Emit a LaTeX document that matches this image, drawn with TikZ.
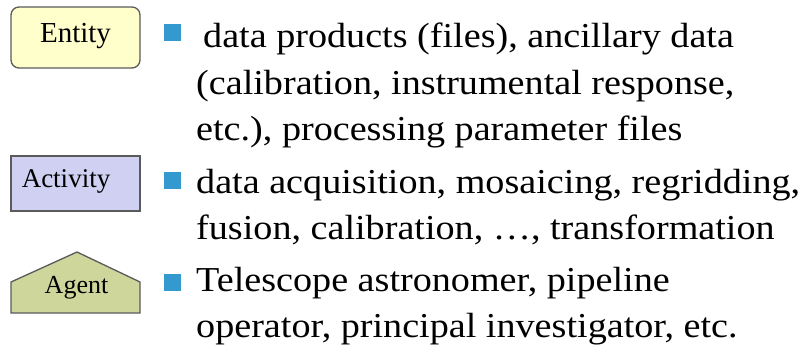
\documentclass[tikz,border=0pt]{standalone}
\usepackage{fontspec}
\setmainfont{Liberation Serif}
\newfontfamily\widefont[FakeStretch=1.09]{Liberation Serif}
\definecolor{entfill}{RGB}{255,255,204}
\definecolor{actfill}{RGB}{208,208,242}
\definecolor{agfill}{RGB}{206,214,156}
\definecolor{bulletblue}{RGB}{51,153,206}
\definecolor{edge}{RGB}{90,90,90}
\begin{document}
\begin{tikzpicture}[x=1pt,y=-1pt,
  shapebox/.style={draw=edge,line width=1.3pt},
  lbl/.style={inner sep=0pt,anchor=base},
  txt/.style={font=\widefont\fontsize{35}{40}\selectfont,inner sep=0pt,anchor=base west},
  bul/.style={fill=bulletblue,minimum size=17pt,inner sep=0pt}]
\useasboundingbox (0,0) rectangle (802,347);
% Entity
\draw[shapebox,fill=entfill,rounded corners=8pt] (11,7) rectangle (140,68);
\node[lbl,font=\fontsize{29}{30}\selectfont] (ent) at (75.5,43) {Entity};
% Activity
\draw[shapebox,fill=actfill] (11,156) rectangle (140,211);
\node[lbl,font=\fontsize{27}{30}\selectfont] (act) at (66,188) {Activity};
% Agent
\draw[shapebox,fill=agfill] (11,313) -- (11,282) -- (77,252) -- (140,282) -- (140,313) -- cycle;
\node[lbl,font=\fontsize{26}{30}\selectfont] (ag) at (76.5,293) {Agent};
% bullets
\node[bul] (b1) at (172,32.5) {};
\node[bul] (b2) at (172,181) {};
\node[bul] (b3) at (172,282) {};
% text
\node[txt] (t11) at (203,48) {data products (files), ancillary data};
\node[txt] (t12) at (196,95) {(calibration, instrumental response,};
\node[txt] (t13) at (196,141) {etc.), processing parameter files};
\node[txt] (t21) at (196,194) {data acquisition, mosaicing, regridding,};
\node[txt] (t22) at (196,240) {fusion, calibration, …, transformation};
\node[txt] (t31) at (196,291) {Telescope astronomer, pipeline};
\node[txt] (t32) at (196,337) {operator, principal investigator, etc.};
\end{tikzpicture}
\end{document}
